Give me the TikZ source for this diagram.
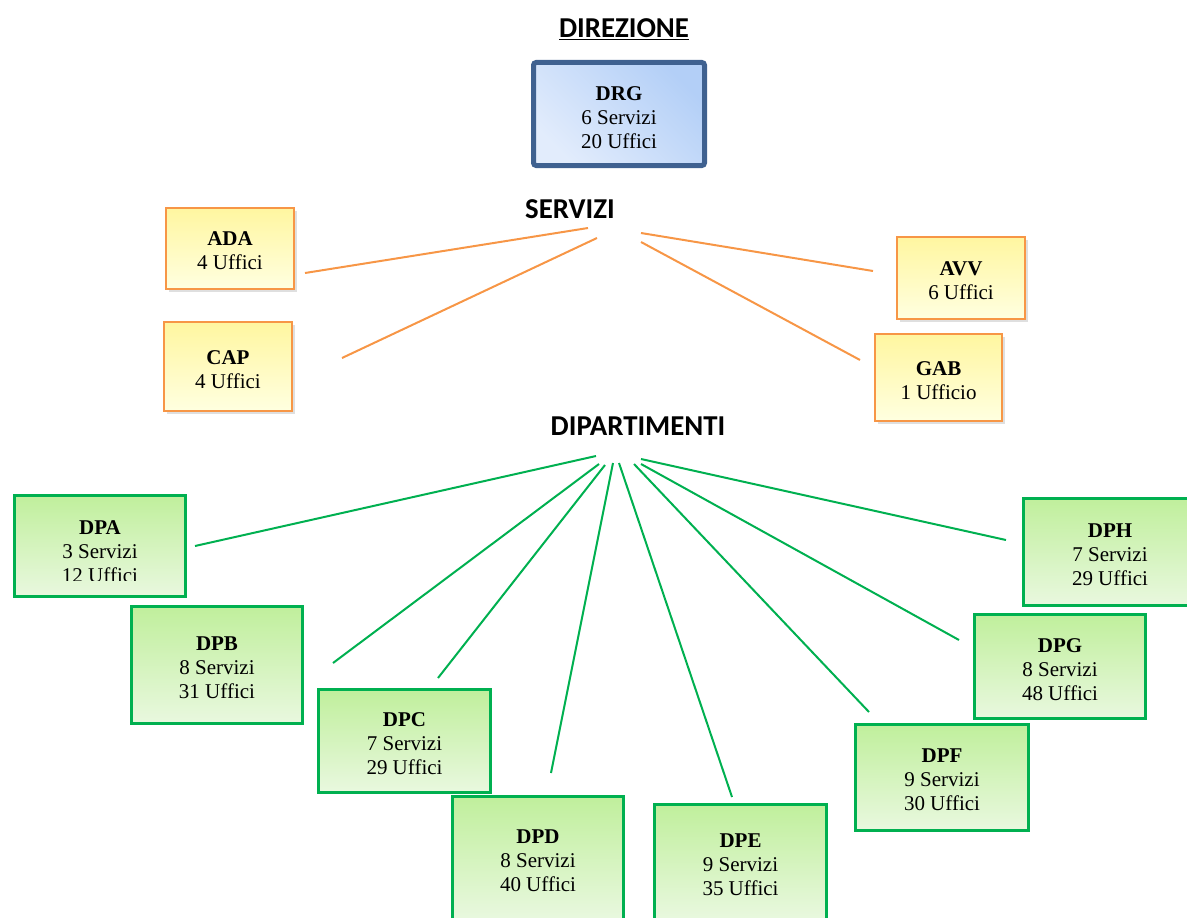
\documentclass[tikz,border=0pt]{standalone}
\usepackage{fontspec}
\setmainfont{Liberation Serif}
\newfontfamily\headfont{Carlito}
\usetikzlibrary{shadows}
\definecolor{drgborder}{HTML}{3F6190}
\definecolor{drglight}{HTML}{E2ECFC}
\definecolor{drgdark}{HTML}{B3CFF7}
\definecolor{orgborder}{HTML}{F79646}
\definecolor{ylwtop}{HTML}{FFF6A0}
\definecolor{ylwbot}{HTML}{FFFFE0}
\definecolor{grnborder}{HTML}{00B050}
\definecolor{grntop}{HTML}{C0EF9C}
\definecolor{grnbot}{HTML}{E9F8DF}
\tikzset{
  boxtext/.style={align=center, font=\fontsize{15.75}{18}\selectfont, inner sep=0pt, outer sep=0pt, yshift=-2pt},
  sz/.style 2 args={minimum width=#1*0.75pt, minimum height=#2*0.75pt, inner sep=0pt, outer sep=0pt},
  drgbox/.style={draw=drgborder, line width=3.75pt, rounded corners=2pt,
     left color=drglight, right color=drgdark, shading angle=135},
  ybox/.style={draw=orgborder, line width=1.5pt, top color=ylwtop, bottom color=ylwbot,
     drop shadow={opacity=0.25, shadow xshift=2pt, shadow yshift=-2.5pt}},
  gbox/.style={draw=grnborder, line width=2.25pt, top color=grntop, bottom color=grnbot},
  heading/.style={font=\headfont\bfseries\fontsize{21.6}{24}\selectfont, inner sep=0pt},
  oline/.style={draw=orgborder, line width=1.5pt},
  gline/.style={draw=grnborder, line width=1.5pt},
}
\begin{document}
\begin{tikzpicture}[x=0.75pt,y=-0.75pt]
\useasboundingbox (0,0) rectangle (1187,917);
\clip (0,0) rectangle (1187,917);

% headings
\node[heading] (hdir) at (624,29) {\underline{DIREZIONE}};
\node[heading] (hser) at (570,209) {SERVIZI};
\node[heading] (hdip) at (638,426) {DIPARTIMENTI};

% direzione
\node[drgbox, sz={171}{103}] (drg) at (619,114) {};
\node[boxtext, yshift=-1pt] (drgt) at (drg.center) {\textbf{DRG}\\6 Servizi\\20 Uffici};

% servizi
\node[ybox, sz={128}{81}] (ada) at (230,248.5) {};
\node[boxtext] (adat) at (ada.center) {\textbf{ADA}\\4 Uffici};
\node[ybox, sz={128}{89}] (cap) at (228,366.5) {};
\node[boxtext] (capt) at (cap.center) {\textbf{CAP}\\4 Uffici};
\node[ybox, sz={128}{82}] (avv) at (961,278) {};
\node[boxtext] (avvt) at (avv.center) {\textbf{AVV}\\6 Uffici};
\node[ybox, sz={127}{87}] (gab) at (938.5,377.5) {};
\node[boxtext] (gabt) at (gab.center) {\textbf{GAB}\\1 Ufficio};

% dipartimenti
\node[gbox, sz={171}{101}] (dpa) at (100,546) {};
\begin{scope}
  \clip (13,494) rectangle (187,580);
  \node[boxtext] (dpat) at (100,549) {\textbf{DPA}\\3 Servizi\\12 Uffici};
\end{scope}
\node[gbox, sz={171}{117}] (dpb) at (217,665) {};
\node[boxtext] (dpbt) at (dpb.center) {\textbf{DPB}\\8 Servizi\\31 Uffici};
\node[gbox, sz={172}{103}] (dpc) at (404.5,741) {};
\node[boxtext] (dpct) at (dpc.center) {\textbf{DPC}\\7 Servizi\\29 Uffici};
\node[gbox, sz={171}{123}] (dpd) at (538,858) {};
\node[boxtext] (dpdt) at (dpd.center) {\textbf{DPD}\\8 Servizi\\40 Uffici};
\node[gbox, sz={172}{115}] (dpe) at (740.5,862) {};
\node[boxtext] (dpet) at (dpe.center) {\textbf{DPE}\\9 Servizi\\35 Uffici};
\node[gbox, sz={173}{106}] (dpf) at (942,777.5) {};
\node[boxtext] (dpft) at (dpf.center) {\textbf{DPF}\\9 Servizi\\30 Uffici};
\node[gbox, sz={171}{104}] (dpg) at (1060,666.5) {};
\node[boxtext] (dpgt) at (dpg.center) {\textbf{DPG}\\8 Servizi\\48 Uffici};
\node[gbox, sz={173}{107}] (dph) at (1110,552) {};
\node[boxtext] (dpht) at (dph.center) {\textbf{DPH}\\7 Servizi\\29 Uffici};

% connector end points
\coordinate (sA1) at (588,228);  \coordinate (sA2) at (305,273);
\coordinate (sC1) at (597,238);  \coordinate (sC2) at (342,358);
\coordinate (sV1) at (641,233);  \coordinate (sV2) at (873,271);
\coordinate (sG1) at (641,242);  \coordinate (sG2) at (860,360);

\coordinate (dA1) at (596,456);  \coordinate (dA2) at (195,546);
\coordinate (dB1) at (599,464);  \coordinate (dB2) at (333,663);
\coordinate (dC1) at (605,465);  \coordinate (dC2) at (438,678);
\coordinate (dD1) at (613,463);  \coordinate (dD2) at (551,773);
\coordinate (dE1) at (619,463);  \coordinate (dE2) at (732,797);
\coordinate (dF1) at (634,464);  \coordinate (dF2) at (869,712);
\coordinate (dG1) at (641,464);  \coordinate (dG2) at (959,640);
\coordinate (dH1) at (641,459);  \coordinate (dH2) at (1006,540);

\draw[oline] (sA1) -- (sA2);
\draw[oline] (sC1) -- (sC2);
\draw[oline] (sV1) -- (sV2);
\draw[oline] (sG1) -- (sG2);

\draw[gline] (dA1) -- (dA2);
\draw[gline] (dB1) -- (dB2);
\draw[gline] (dC1) -- (dC2);
\draw[gline] (dD1) -- (dD2);
\draw[gline] (dE1) -- (dE2);
\draw[gline] (dF1) -- (dF2);
\draw[gline] (dG1) -- (dG2);
\draw[gline] (dH1) -- (dH2);
\end{tikzpicture}
\end{document}
